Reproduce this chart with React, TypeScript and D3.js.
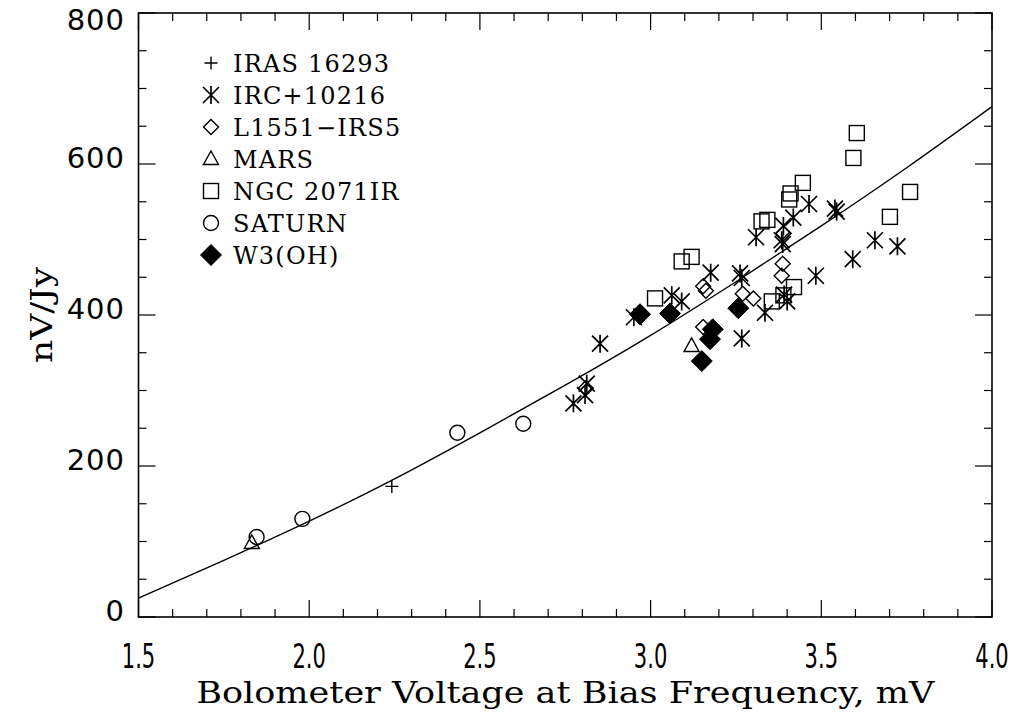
import React from 'react'
import * as d3 from 'd3'

// plot frame (pixels)
const W = 1023
const H = 715
const left = 138.5
const right = 992
const top = 13
const bottom = 617

// axis ticks
const xMajor = [1.5, 2.0, 2.5, 3.0, 3.5, 4.0]
const xMinor = d3.range(15, 41).map(d => d / 10)
const yMajor = [0, 200, 400, 600, 800]
const yMinor = d3.range(0, 801, 50)

// fitted curve
const fitX = [1.5, 1.75, 2.0, 2.25, 2.5, 2.75, 3.0, 3.25, 3.5, 3.75, 4.0]
const fitY = [25, 75, 127, 183, 244, 307, 373, 444, 518, 595, 676]

// sources
const irasX = [2.242]
const irasY = [173]

const ircX = [2.774, 2.808, 2.813, 2.852, 2.951, 3.062, 3.091, 3.176, 3.262, 3.267, 3.267, 3.309, 3.389, 3.418, 3.464, 3.384, 3.387, 3.540, 3.545, 3.484, 3.335, 3.391, 3.400, 3.657, 3.723, 3.592]
const ircY = [283, 294, 309, 362, 397, 426, 418, 456, 455, 449, 369, 503, 518, 529, 547, 499, 494, 541, 537, 452, 403, 427, 418, 499, 491, 474]

const l1551X = [2.810, 3.154, 3.162, 3.154, 3.270, 3.301, 3.387, 3.384, 3.389]
const l1551Y = [303, 438, 432, 384, 428, 422, 468, 452, 508]

const marsX = [1.832, 3.120]
const marsY = [98, 359]

const ngcX = [3.013, 3.091, 3.120, 3.325, 3.342, 3.406, 3.410, 3.446, 3.355, 3.420, 3.389, 3.604, 3.594, 3.760, 3.701]
const ngcY = [422, 471, 477, 524, 526, 553, 561, 575, 418, 437, 426, 641, 608, 563, 530]

const saturnX = [1.846, 1.980, 2.434, 2.627]
const saturnY = [106, 130, 244, 256]

const w3X = [2.969, 3.057, 3.182, 3.174, 3.150, 3.257]
const w3Y = [401, 402, 381, 368, 339, 409]

const series = [
  { name: 'IRAS 16293', shape: 'plus', xs: irasX, ys: irasY },
  { name: 'IRC+10216', shape: 'asterisk', xs: ircX, ys: ircY },
  { name: 'L1551\u2212IRS5', shape: 'diamond', xs: l1551X, ys: l1551Y },
  { name: 'MARS', shape: 'triangle', xs: marsX, ys: marsY },
  { name: 'NGC 2071IR', shape: 'square', xs: ngcX, ys: ngcY },
  { name: 'SATURN', shape: 'circle', xs: saturnX, ys: saturnY },
  { name: 'W3(OH)', shape: 'filled', xs: w3X, ys: w3Y },
]

function Marker({ shape, x, y }: { shape: string; x: number; y: number }) {
  const s = { fill: 'none', stroke: '#000', strokeWidth: 1.4 }
  switch (shape) {
    case 'plus':
      return <path {...s} d={`M${x - 6.5},${y}H${x + 6.5}M${x},${y - 6.5}V${y + 6.5}`} />
    case 'asterisk':
      return (
        <path
          {...s}
          strokeWidth={1.7}
          d={`M${x},${y - 9}V${y + 9}M${x - 8},${y - 8}L${x + 8},${y + 8}M${x - 8},${y + 8}L${x + 8},${y - 8}`}
        />
      )
    case 'diamond':
      return <path {...s} d={`M${x},${y - 7.5}L${x + 7.5},${y}L${x},${y + 7.5}L${x - 7.5},${y}Z`} />
    case 'triangle':
      return <path {...s} d={`M${x},${y - 8}L${x + 7.5},${y + 5.5}L${x - 7.5},${y + 5.5}Z`} />
    case 'square':
      return <rect {...s} x={x - 7.5} y={y - 7.5} width={15} height={15} />
    case 'circle':
      return <circle {...s} cx={x} cy={y} r={7.5} />
    default:
      return <path fill="#000" stroke="#000" d={`M${x},${y - 10.5}L${x + 10.5},${y}L${x},${y + 10.5}L${x - 10.5},${y}Z`} />
  }
}

export default function App() {
  const x = d3.scaleLinear().domain([1.5, 4.0]).range([left, right])
  const y = d3.scaleLinear().domain([0, 800]).range([bottom, top])

  const fit = d3
    .line<number>()
    .x((_, i) => x(fitX[i]))
    .y(d => y(d))
    .curve(d3.curveNatural)(fitY)

  const major = 17
  const minor = 8

  return (
    <svg
      width={W}
      height={H}
      style={{ position: 'absolute', left: 0, top: 0, background: '#fff' }}
    >
      <defs>
        <clipPath id="plot">
          <rect x={left} y={top} width={right - left} height={bottom - top} />
        </clipPath>
      </defs>

      {/* frame */}
      <rect x={left} y={top} width={right - left} height={bottom - top} fill="none" stroke="#000" strokeWidth={1.6} />

      {/* x ticks, bottom and top, inward */}
      {xMinor.map(v => {
        const len = xMajor.some(m => Math.abs(m - v) < 1e-6) ? major : minor
        return (
          <g key={'xt' + v} stroke="#000" strokeWidth={1.2}>
            <line x1={x(v)} x2={x(v)} y1={bottom} y2={bottom - len} />
            <line x1={x(v)} x2={x(v)} y1={top} y2={top + len} />
          </g>
        )
      })}

      {/* y ticks, left and right, inward */}
      {yMinor.map(v => {
        const len = v % 200 === 0 ? major : minor
        return (
          <g key={'yt' + v} stroke="#000" strokeWidth={1.2}>
            <line x1={left} x2={left + len} y1={y(v)} y2={y(v)} />
            <line x1={right} x2={right - len} y1={y(v)} y2={y(v)} />
          </g>
        )
      })}

      {/* tick labels */}
      {yMajor.map(v => (
        <text
          key={'yl' + v}
          x={125}
          y={Math.max(y(v) + 4, 30)}
          textAnchor="end"
          fontFamily="DejaVu Sans"
          fontSize={29}
          letterSpacing={1}
        >
          {v}
        </text>
      ))}
      {xMajor.map(v => (
        <g key={'xl' + v} transform={`translate(${x(v)},668) scale(0.62,1)`}>
          <text textAnchor="middle" fontFamily="DejaVu Sans" fontSize={34}>
            {d3.format('.1f')(v)}
          </text>
        </g>
      ))}

      {/* axis titles */}
      <text
        x={(left + right) / 2}
        y={703}
        textAnchor="middle"
        fontFamily="DejaVu Serif"
        fontSize={29}
        textLength={738}
        lengthAdjust="spacingAndGlyphs"
      >
        Bolometer Voltage at Bias Frequency, mV
      </text>
      <text
        transform="translate(52,315) rotate(-90)"
        textAnchor="middle"
        fontFamily="DejaVu Serif"
        fontSize={29}
        textLength={96}
        lengthAdjust="spacingAndGlyphs"
      >
        nV/Jy
      </text>

      {/* fit */}
      <path d={fit || ''} fill="none" stroke="#000" strokeWidth={1.4} clipPath="url(#plot)" />

      {/* data */}
      {series.map(s => (
        <g key={s.name}>
          {s.xs.map((v, i) => (
            <Marker key={i} shape={s.shape} x={x(v)} y={y(s.ys[i])} />
          ))}
        </g>
      ))}

      {/* legend */}
      {series.map((s, i) => {
        const cy = 63 + i * 32
        return (
          <g key={'lg' + s.name}>
            <Marker shape={s.shape} x={211} y={cy} />
            <text x={233} y={cy + 8.5} fontFamily="DejaVu Serif" fontSize={24} letterSpacing={1.2}>
              {s.name}
            </text>
          </g>
        )
      })}
    </svg>
  )
}
